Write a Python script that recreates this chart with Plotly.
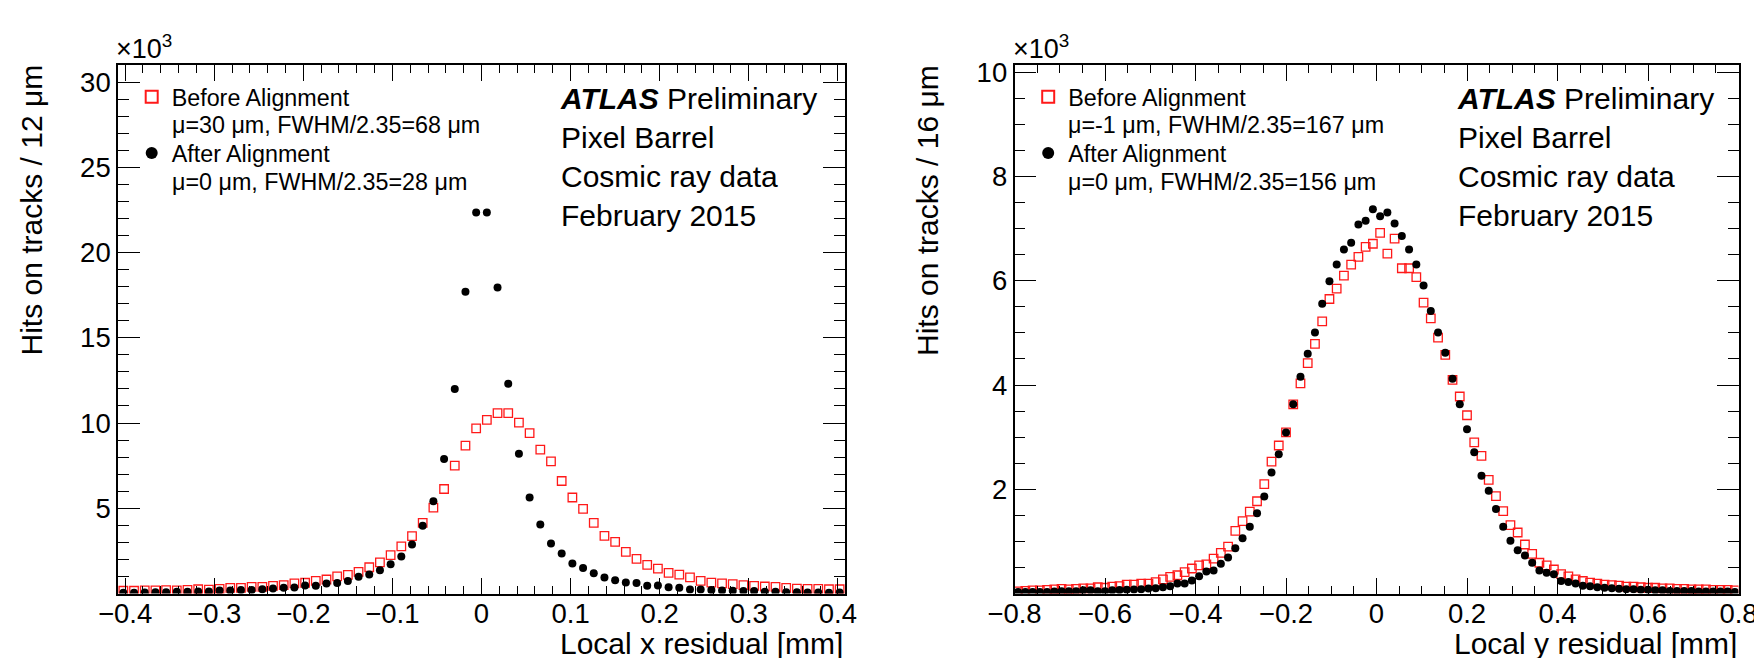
import numpy as np
import plotly.graph_objects as go

# ---------------- data ----------------
# Left panel: local x residual, 68 bins of 12 um between -0.408 and 0.408 mm (values in 10^3 hits)
x_lo, x_bin = -0.408, 0.012
x_before = [0.16, 0.16, 0.18, 0.18, 0.20, 0.18, 0.21, 0.25, 0.23, 0.27, 0.33, 0.33, 0.39, 0.39,
            0.45, 0.49, 0.59, 0.63, 0.74, 0.82, 1.00, 1.09, 1.27, 1.54, 1.82, 2.25, 2.77, 3.36,
            4.14, 5.04, 6.13, 7.50, 8.67, 9.68, 10.19, 10.58, 10.58, 10.02, 9.41, 8.44, 7.75,
            6.60, 5.63, 4.96, 4.14, 3.38, 3.03, 2.44, 2.03, 1.68, 1.46, 1.21, 1.11, 0.94, 0.74,
            0.64, 0.59, 0.55, 0.49, 0.45, 0.41, 0.39, 0.33, 0.29, 0.27, 0.27, 0.25, 0.25]
x_after = [0.04, 0.04, 0.06, 0.08, 0.08, 0.10, 0.10, 0.12, 0.11, 0.18, 0.18, 0.20, 0.21, 0.25,
           0.29, 0.33, 0.35, 0.47, 0.45, 0.59, 0.61, 0.74, 0.98, 1.11, 1.37, 1.72, 2.17, 2.87,
           3.98, 5.41, 7.89, 12.00, 17.70, 22.35, 22.35, 17.95, 12.30, 8.20, 5.63, 4.04, 2.93,
           2.34, 1.76, 1.50, 1.19, 0.94, 0.78, 0.64, 0.62, 0.45, 0.47, 0.37, 0.33, 0.23, 0.23,
           0.20, 0.18, 0.16, 0.15, 0.14, 0.10, 0.10, 0.08, 0.08, 0.06, 0.06, 0.04, 0.06]

# Right panel: local y residual, 100 bins of 16 um between -0.8 and 0.8 mm (values in 10^3 hits)
y_lo, y_bin = -0.8, 0.016
y_before = [0.04, 0.05, 0.06, 0.06, 0.07, 0.08, 0.09, 0.08, 0.09, 0.10, 0.10, 0.12, 0.11, 0.13,
            0.14, 0.17, 0.17, 0.19, 0.19, 0.22, 0.27, 0.32, 0.35, 0.41, 0.48, 0.54, 0.56, 0.67,
            0.78, 0.90, 1.20, 1.39, 1.57, 1.77, 2.10, 2.53, 2.84, 3.09, 3.63, 4.03, 4.42, 4.79,
            5.22, 5.65, 5.85, 6.10, 6.31, 6.46, 6.65, 6.71, 6.92, 6.52, 6.81, 6.24, 6.24, 6.07,
            5.58, 5.28, 4.91, 4.58, 4.10, 3.78, 3.42, 2.90, 2.64, 2.18, 1.87, 1.58, 1.31, 1.17,
            0.94, 0.76, 0.59, 0.54, 0.46, 0.37, 0.33, 0.27, 0.24, 0.21, 0.19, 0.17, 0.16, 0.15,
            0.13, 0.13, 0.12, 0.11, 0.11, 0.10, 0.10, 0.09, 0.09, 0.08, 0.08, 0.08, 0.07, 0.07,
            0.07, 0.06]
y_after = [0.03, 0.03, 0.03, 0.03, 0.03, 0.04, 0.045, 0.045, 0.045, 0.06, 0.06, 0.045, 0.045,
           0.06, 0.065, 0.07, 0.077, 0.083, 0.096, 0.10, 0.12, 0.14, 0.19, 0.19, 0.25, 0.33,
           0.42, 0.44, 0.57, 0.69, 0.87, 1.06, 1.28, 1.54, 1.86, 2.32, 2.67, 3.09, 3.63, 4.16,
           4.60, 5.01, 5.56, 5.99, 6.31, 6.60, 6.73, 7.08, 7.15, 7.37, 7.24, 7.31, 7.10, 6.86,
           6.60, 6.31, 5.91, 5.42, 5.01, 4.62, 4.12, 3.63, 3.15, 2.71, 2.26, 1.97, 1.62, 1.28,
           1.01, 0.83, 0.73, 0.59, 0.44, 0.40, 0.37, 0.24, 0.22, 0.19, 0.15, 0.14, 0.12, 0.11,
           0.10, 0.09, 0.08, 0.08, 0.07, 0.07, 0.06, 0.06, 0.05, 0.05, 0.05, 0.05, 0.04, 0.04,
           0.04, 0.04, 0.04, 0.03]

series_names = ["Before Alignment", "After Alignment"]
left_fit_text = ["μ=30 μm, FWHM/2.35=68 μm", "μ=0 μm, FWHM/2.35=28 μm"]
right_fit_text = ["μ=-1 μm, FWHM/2.35=167 μm", "μ=0 μm, FWHM/2.35=156 μm"]
atlas_lines = ["<b><i>ATLAS</i></b> Preliminary", "Pixel Barrel", "Cosmic ray data", "February 2015"]
x_titles = ["Local x residual [mm]", "Local y residual [mm]"]
y_titles = ["Hits on tracks / 12 μm", "Hits on tracks / 16 μm"]
left_yticks = [5, 10, 15, 20, 25, 30]
right_yticks = [2, 4, 6, 8, 10]

# ---------------- layout helpers ----------------
W, H = 1754, 658
FONT = "Liberation Sans, Arial, Helvetica, sans-serif"


def px(x):
    return x / W


def py(y):
    return 1 - y / H


xc_left = x_lo + x_bin * (np.arange(len(x_after)) + 0.5)
xc_right = y_lo + y_bin * (np.arange(len(y_after)) + 0.5)

red = "rgb(255,25,25)"
red_marker = dict(symbol="square-open", size=8.5, color=red, line=dict(color=red, width=1.3))
black_marker = dict(symbol="circle", size=8, color="black", line=dict(width=0))

fig = go.Figure()
fig.add_trace(go.Scatter(x=xc_left, y=x_before, mode="markers", marker=red_marker,
                         name=series_names[0], legendgroup="lb", xaxis="x", yaxis="y",
                         legend="legend"))
fig.add_trace(go.Scatter(x=xc_left, y=x_after, mode="markers", marker=black_marker,
                         name=series_names[1], legendgroup="la", xaxis="x", yaxis="y",
                         legend="legend"))
fig.add_trace(go.Scatter(x=xc_right, y=y_before, mode="markers", marker=red_marker,
                         name=series_names[0], legendgroup="rb", xaxis="x2", yaxis="y2",
                         legend="legend2"))
fig.add_trace(go.Scatter(x=xc_right, y=y_after, mode="markers", marker=black_marker,
                         name=series_names[1], legendgroup="ra", xaxis="x2", yaxis="y2",
                         legend="legend2"))

L_X0, L_X1 = 118, 845
R_X0, R_X1 = 1014.5, 1738.5
Y_TOP, Y_BOT = 65, 593.5
LEG_FONT = 23.3
TEXT_DX = 53.7          # legend text start, relative to frame left edge
LINE_Y = [96.7, 125.0, 153.3, 181.7]   # legend text line centres (px from top)

common_axis = dict(showline=True, linecolor="black", linewidth=1.6, mirror="ticks",
                   ticks="inside", tickcolor="black", tickwidth=1.3, showgrid=False,
                   zeroline=False, tickfont=dict(family=FONT, size=27.5, color="black"),
                   ticklabeloverflow="allow", automargin=False)

legend_common = dict(xanchor="left", yanchor="top", bgcolor="rgba(0,0,0,0)",
                     font=dict(family=FONT, size=LEG_FONT, color="black"),
                     tracegroupgap=23, itemsizing="constant", traceorder="grouped")

fig.update_layout(
    template="none",
    width=W, height=H, autosize=False,
    margin=dict(l=0, r=0, t=0, b=0, pad=0),
    paper_bgcolor="white", plot_bgcolor="white",
    font=dict(family=FONT, color="black"),
    xaxis=dict(domain=[px(L_X0), px(L_X1)], range=[-0.408, 0.408], tickmode="linear",
               tick0=0, dtick=0.1, ticklen=16, anchor="y", ticklabelstandoff=-5,
               minor=dict(tick0=0, dtick=0.02, ticklen=8, ticks="inside", tickcolor="black",
                          tickwidth=1.3), **common_axis),
    yaxis=dict(domain=[py(Y_BOT), py(Y_TOP)], range=[0, 31], tickmode="array",
               tickvals=left_yticks, ticklen=22, anchor="x",
               minor=dict(tickmode="linear", tick0=0, dtick=1, ticklen=11, ticks="inside",
                          tickcolor="black", tickwidth=1.3), **common_axis),
    xaxis2=dict(domain=[px(R_X0), px(R_X1)], range=[-0.8, 0.8], tickmode="linear",
                tick0=0, dtick=0.2, ticklen=16, anchor="y2", ticklabelstandoff=-5,
                minor=dict(tick0=0, dtick=0.05, ticklen=8, ticks="inside", tickcolor="black",
                           tickwidth=1.3), **common_axis),
    yaxis2=dict(domain=[py(Y_BOT), py(Y_TOP)], range=[0, 10.14], tickmode="array",
                tickvals=right_yticks, ticklen=22, anchor="x2",
                minor=dict(tickmode="linear", tick0=0, dtick=0.5, ticklen=11, ticks="inside",
                           tickcolor="black", tickwidth=1.3), **common_axis),
    legend=dict(x=px(L_X0 + TEXT_DX - 40), y=py(LINE_Y[0] - 21.7), **legend_common),
    legend2=dict(x=px(R_X0 + TEXT_DX - 40), y=py(LINE_Y[0] - 21.7), **legend_common),
    showlegend=True,
)

annotations = []
for x0, x1, xt, yt, fit in [(L_X0, L_X1, x_titles[0], y_titles[0], left_fit_text),
                            (R_X0, R_X1, x_titles[1], y_titles[1], right_fit_text)]:
    # fit-result lines under each legend entry
    for txt, yy in zip(fit, [LINE_Y[1], LINE_Y[3]]):
        annotations.append(dict(text=txt, x=px(x0 + TEXT_DX - 2), y=py(yy), xref="paper",
                                yref="paper", xanchor="left", yanchor="middle",
                                showarrow=False,
                                font=dict(family=FONT, size=LEG_FONT, color="black")))
    # ATLAS label block
    annotations.append(dict(text="<br>".join(atlas_lines), x=px(x0 + 440), y=py(157),
                            xref="paper", yref="paper", xanchor="left", yanchor="middle",
                            align="left", showarrow=False,
                            font=dict(family=FONT, size=30, color="black")))
    # x-axis title (right aligned)
    annotations.append(dict(text=xt, x=px(x1), y=py(643), xref="paper", yref="paper",
                            xanchor="right", yanchor="middle", showarrow=False,
                            font=dict(family=FONT, size=30, color="black")))
    # y-axis title (top aligned, rotated)
    annotations.append(dict(text=yt, x=px(x0 - 87), y=py(Y_TOP - 2), xref="paper",
                            yref="paper", xanchor="center", yanchor="top", textangle=-90,
                            showarrow=False, font=dict(family=FONT, size=30, color="black")))
    # x10^3 exponent label
    annotations.append(dict(text="×10<sup>3</sup>", x=px(x0 - 4), y=py(66), xref="paper",
                            yref="paper", xanchor="left", yanchor="bottom", showarrow=False,
                            font=dict(family=FONT, size=27, color="black")))
fig.update_layout(annotations=annotations)

fig.write_html("out.html", config={"displayModeBar": False},
               post_script="document.body.style.margin='0';")
